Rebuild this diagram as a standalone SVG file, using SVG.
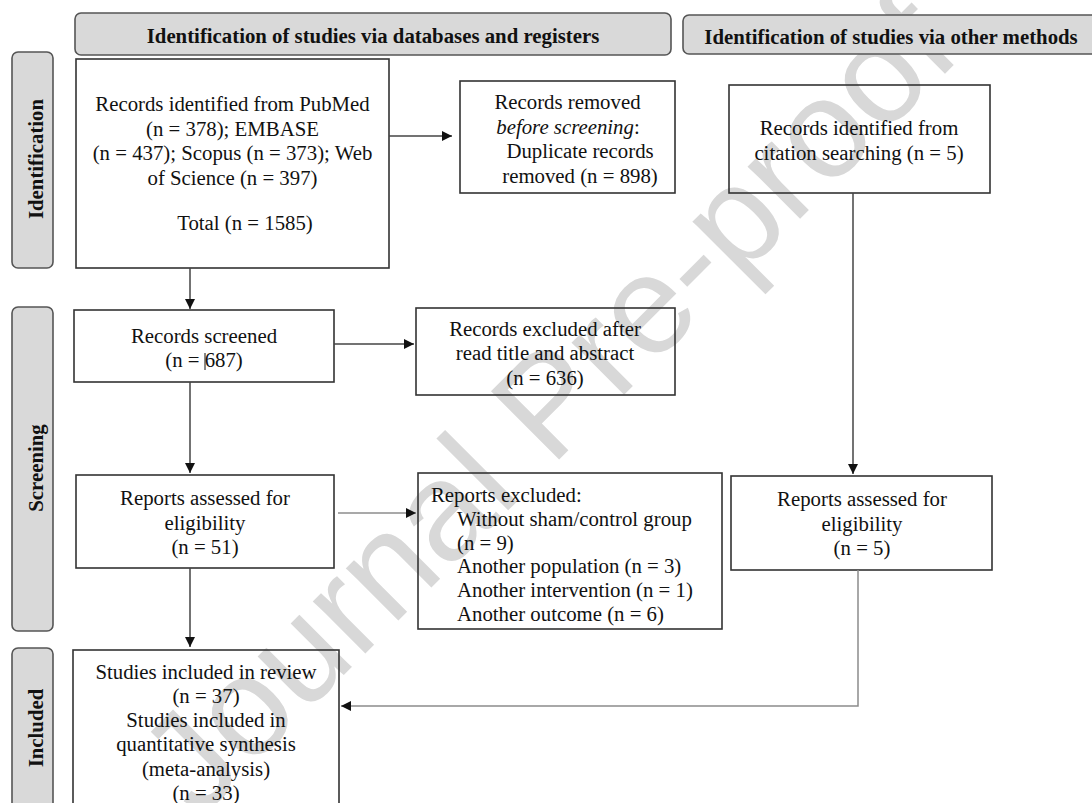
<svg xmlns="http://www.w3.org/2000/svg" width="1092" height="803" viewBox="0 0 1092 803">
<defs>
<style>
.t{font-family:"Liberation Serif","Times New Roman",serif;font-size:20.8px;fill:#111}
.c{text-anchor:middle}
.b{font-weight:bold}
.box{fill:none;stroke:#333;stroke-width:1.6}
.hdr{fill:#d9d9d9;stroke:#555;stroke-width:1.6}
.ln{fill:none;stroke:#444;stroke-width:1.5}
.lg{fill:none;stroke:#8c8c8c;stroke-width:1.5}
.wm{font-family:"Liberation Sans",Arial,sans-serif;font-size:140px;fill:#d8d8d8}
</style>
<marker id="ah" viewBox="0 0 10 10" refX="10" refY="5" markerWidth="10" markerHeight="10" markerUnits="userSpaceOnUse" orient="auto">
<path d="M0,0 L10,5 L0,10 Z" fill="#111"/>
</marker>
</defs>
<rect width="1092" height="803" fill="#fff"/>
<text class="wm" text-anchor="middle" transform="translate(546,402) rotate(-45)" dy="50">Journal Pre-proof</text>

<g id="hdr-db"><rect class="hdr" x="75" y="13" width="596" height="42" rx="6"/><text class="t b c" x="373" y="43">Identification of studies via databases and registers</text></g>
<g id="hdr-other"><rect class="hdr" x="683" y="15" width="420" height="39" rx="6"/><text class="t b c" x="891" y="44">Identification of studies via other methods</text></g>

<g id="side-identification"><rect class="hdr" x="12" y="52" width="41" height="216" rx="6"/><text class="t b c" transform="translate(43,159) rotate(-90)">Identification</text></g>
<g id="side-screening"><rect class="hdr" x="12" y="307" width="41" height="324" rx="6"/><text class="t b c" transform="translate(43,468) rotate(-90)">Screening</text></g>
<g id="side-included"><rect class="hdr" x="12" y="648" width="41" height="170" rx="6"/><text class="t b c" transform="translate(43,728) rotate(-90)">Included</text></g>

<g id="n-identified"><rect class="box" x="76" y="59" width="313" height="209"/>
<text class="t c" x="232.5" y="111">Records identified from PubMed</text>
<text class="t c" x="232.5" y="135.5">(n = 378); EMBASE</text>
<text class="t c" x="232.5" y="160">(n = 437); Scopus (n = 373); Web</text>
<text class="t c" x="232.5" y="184.5">of Science (n = 397)</text>
<text class="t c" x="245" y="230">Total (n = 1585)</text></g>

<g id="n-removed"><rect class="box" x="460" y="81" width="215" height="112"/>
<text class="t c" x="567.5" y="109">Records removed</text>
<text class="t c" x="568" y="133.5" font-style="italic">before screening<tspan font-style="normal">:</tspan></text>
<text class="t c" x="580" y="158">Duplicate records</text>
<text class="t c" x="580" y="182.5">removed (n = 898)</text></g>

<g id="n-citation"><rect class="box" x="729" y="85" width="261" height="108"/>
<text class="t c" x="859" y="135">Records identified from</text>
<text class="t c" x="859" y="160">citation searching (n = 5)</text></g>

<g id="n-screened"><rect class="box" x="74" y="310" width="260" height="72"/>
<text class="t c" x="204" y="343">Records screened</text>
<text class="t c" x="204" y="367">(n = 687)</text>
<line x1="205" y1="353" x2="205" y2="370" stroke="#111" stroke-width="1"/></g>

<g id="n-excluded"><rect class="box" x="416" y="308" width="259" height="87"/>
<text class="t c" x="545" y="336">Records excluded after</text>
<text class="t c" x="545" y="360">read title and abstract</text>
<text class="t c" x="545" y="385">(n = 636)</text></g>

<g id="n-assessed"><rect class="box" x="76" y="475" width="258" height="93"/>
<text class="t c" x="205" y="505">Reports assessed for</text>
<text class="t c" x="205" y="530">eligibility</text>
<text class="t c" x="205" y="554">(n = 51)</text></g>

<g id="n-rep-excluded"><rect class="box" x="418" y="473" width="304" height="156"/>
<text class="t" x="431" y="502">Reports excluded:</text>
<text class="t" x="457" y="526">Without sham/control group</text>
<text class="t" x="457" y="550">(n = 9)</text>
<text class="t" x="457" y="573">Another population (n = 3)</text>
<text class="t" x="457" y="597">Another intervention (n = 1)</text>
<text class="t" x="457" y="621">Another outcome (n = 6)</text></g>

<g id="n-assessed-other"><rect class="box" x="731" y="476" width="261" height="94"/>
<text class="t c" x="862" y="506">Reports assessed for</text>
<text class="t c" x="862" y="531">eligibility</text>
<text class="t c" x="862" y="555">(n = 5)</text></g>

<g id="n-included"><rect class="box" x="73" y="650" width="266" height="170"/>
<text class="t c" x="206" y="679">Studies included in review</text>
<text class="t c" x="206" y="703">(n = 37)</text>
<text class="t c" x="206" y="727">Studies included in</text>
<text class="t c" x="206" y="751">quantitative synthesis</text>
<text class="t c" x="206" y="776">(meta-analysis)</text>
<text class="t c" x="206" y="800">(n = 33)</text></g>

<g id="connectors">
<line class="ln" x1="389" y1="136" x2="452" y2="136" marker-end="url(#ah)"/>
<line class="ln" x1="190" y1="268" x2="190" y2="309" marker-end="url(#ah)"/>
<line class="ln" x1="334" y1="344" x2="414" y2="344" marker-end="url(#ah)"/>
<line class="ln" x1="190" y1="382" x2="190" y2="473" marker-end="url(#ah)"/>
<line class="lg" x1="338" y1="513" x2="416" y2="513" marker-end="url(#ah)"/>
<line class="ln" x1="853" y1="193" x2="853" y2="474" marker-end="url(#ah)"/>
<polyline class="lg" points="858,570 858,706 341,706" marker-end="url(#ah)"/>
<line class="ln" x1="190" y1="568" x2="190" y2="647" marker-end="url(#ah)"/>
</g>
</svg>
